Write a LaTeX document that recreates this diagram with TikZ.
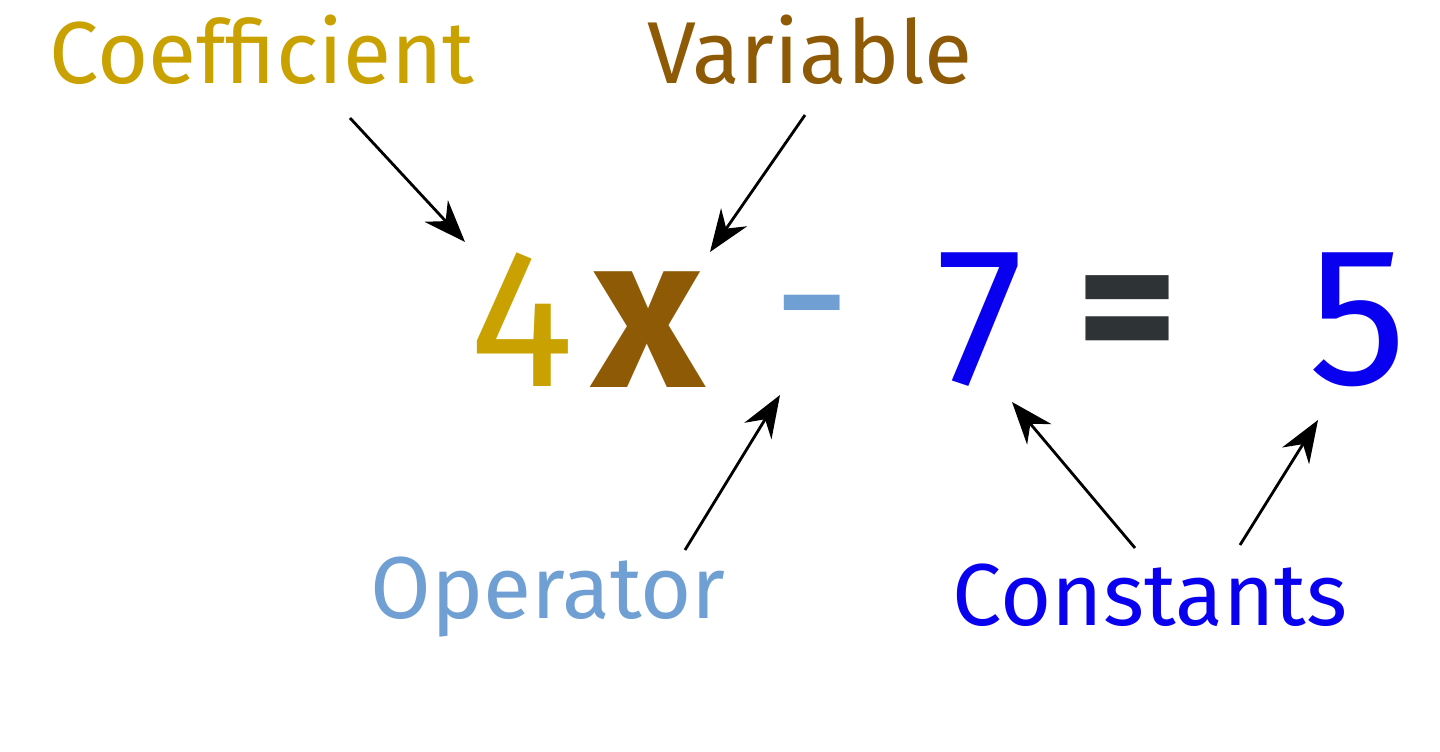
\documentclass[tikz,border=0pt]{standalone}
\usepackage{fontspec}
\setmainfont{Fira Sans}
\usetikzlibrary{arrows.meta}
\definecolor{gold}{HTML}{C9A100}
\definecolor{brownv}{HTML}{8E5A05}
\definecolor{opblue}{HTML}{6F9FD3}
\definecolor{cblue}{HTML}{0A00F0}
\definecolor{eqgray}{HTML}{2E3335}
\begin{document}
\begin{tikzpicture}[x=0.01cm,y=-0.01cm,
  lbl/.style={inner sep=0pt,font=\fontsize{25}{30}\selectfont},
  big/.style={inner sep=0pt,font=\fontsize{56}{62}\selectfont},
  arr/.style={-{Stealth[length=12pt,width=9pt]},line width=0.8pt}]
\useasboundingbox (0,0) rectangle (1440,752);
\node[lbl,text=gold] (coef) at (262,50) {Coefficient};
\node[lbl,text=brownv] (var) at (810,50) {Variable};
\node[lbl,text=opblue] (op) at (548,597) {Operator};
\node[lbl,text=cblue] (con) at (1150,595) {Constants};
\node[big,text=gold] (four) at (522,320) {4};
\node[big,text=brownv,font=\fontsize{62}{66}\selectfont\bfseries] (x) at (648,330) {x};
\node[big,text=opblue] (minus) at (812,330) {-};
\node[big,text=cblue] (seven) at (980,320) {7};
\node[big,text=eqgray,font=\fontsize{56}{62}\selectfont\bfseries] (eq) at (1128,325) {=};
\node[big,text=cblue] (five) at (1358,320) {5};
\coordinate (a1) at (350,118); \coordinate (b1) at (465,242);
\coordinate (a2) at (805,115); \coordinate (b2) at (710,252);
\coordinate (a3) at (685,550); \coordinate (b3) at (780,395);
\coordinate (a4) at (1135,548); \coordinate (b4) at (1012,402);
\coordinate (a5) at (1240,545); \coordinate (b5) at (1318,420);
\draw[arr] (a1) -- (b1);
\draw[arr] (a2) -- (b2);
\draw[arr] (a3) -- (b3);
\draw[arr] (a4) -- (b4);
\draw[arr] (a5) -- (b5);
\end{tikzpicture}
\end{document}
